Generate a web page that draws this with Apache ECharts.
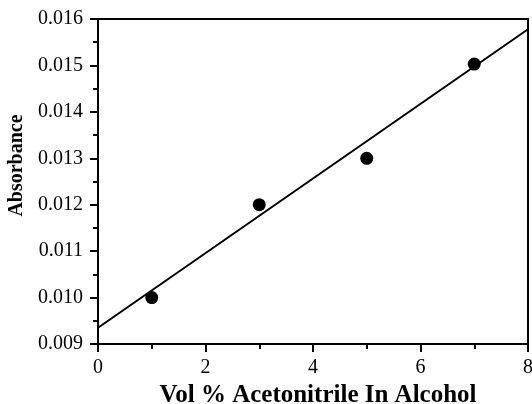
<!DOCTYPE html>
<html><head><meta charset="utf-8">
<script src="https://cdn.jsdelivr.net/npm/echarts@6/dist/echarts.min.js"></script>
<style>html,body{margin:0;padding:0;background:#fff}#c{width:532px;height:404px}</style>
</head><body><div id="c"></div>
<script>
var pointX = [1, 3, 5, 7];
var pointY = [0.0100, 0.0120, 0.0130, 0.01503];
var fitX = [0, 8];
var fitY = [0.00935, 0.01578];
var xTicks = [0, 2, 4, 6, 8];
var yTicks = [0.009, 0.010, 0.011, 0.012, 0.013, 0.014, 0.015, 0.016];
var xTitle = 'Vol % Acetonitrile In Alcohol';
var yTitle = 'Absorbance';

var serif = "'Liberation Serif','Times New Roman',serif";
var chart = echarts.init(document.getElementById('c'));
chart.setOption({
  animation: false,
  grid: {left: 98, right: 4, top: 19, bottom: 60, containLabel: false, outerBoundsMode: 'none',
         show: true, borderColor: '#000', borderWidth: 2, backgroundColor: 'transparent'},
  xAxis: {
    type: 'value', min: xTicks[0], max: xTicks[xTicks.length-1], interval: 2,
    name: xTitle, nameLocation: 'middle', nameGap: 31,
    nameTextStyle: {fontFamily: serif, fontWeight: 'bold', fontSize: 25, color: '#000', padding: [0, 0, 0, 10]},
    axisLine: {lineStyle: {color: '#000', width: 2}},
    axisTick: {inside: false, length: 8, lineStyle: {color: '#000', width: 2}},
    minorTick: {show: true, splitNumber: 2, length: 5, lineStyle: {color: '#000', width: 2}},
    axisLabel: {fontFamily: serif, fontSize: 20, color: '#000', margin: 14},
    splitLine: {show: false}
  },
  yAxis: {
    type: 'value', min: yTicks[0], max: yTicks[yTicks.length-1], interval: 0.001,
    name: yTitle, nameLocation: 'middle', nameGap: 65,
    nameTextStyle: {fontFamily: serif, fontWeight: 'bold', fontSize: 20, color: '#000', padding: [0, 0, 0, 32]},
    axisLine: {lineStyle: {color: '#000', width: 2}},
    axisTick: {inside: false, length: 8, lineStyle: {color: '#000', width: 2}},
    minorTick: {show: true, splitNumber: 2, length: 5, lineStyle: {color: '#000', width: 2}},
    axisLabel: {fontFamily: serif, fontSize: 20, color: '#000', margin: 15,
      formatter: function (v) { return v.toFixed(3); }},
    splitLine: {show: false}
  },
  series: [
    {type: 'line', data: fitX.map(function (x, i) { return [x, fitY[i]]; }),
     showSymbol: false, symbol: 'none', lineStyle: {color: '#000', width: 2}, z: 2},
    {type: 'scatter', data: pointX.map(function (x, i) { return [x, pointY[i]]; }),
     symbol: 'circle', symbolSize: 13, itemStyle: {color: '#000', opacity: 1}, z: 3}
  ]
});
</script></body></html>
